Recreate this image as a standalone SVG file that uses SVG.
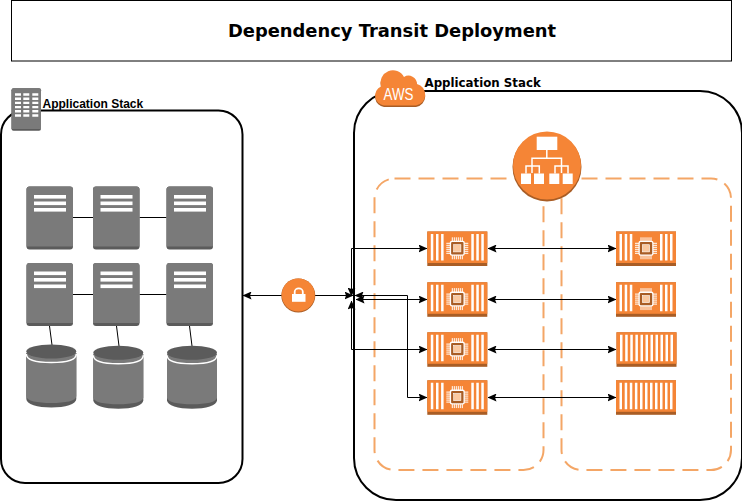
<svg xmlns="http://www.w3.org/2000/svg" width="742" height="502" viewBox="0 0 742 502">
<style>
.t{font-family:"DejaVu Sans",Verdana,sans-serif;font-weight:700;fill:#000}
.box{fill:#fff;stroke:#000;stroke-width:2}
.dash{fill:none;stroke:#f4a666;stroke-width:2;stroke-dasharray:16 8}
.c{fill:none;stroke:#000;stroke-width:1}
.g{fill:#7a7a7a}.gd{fill:#5b5b5b}.o{fill:#f58536}.od{fill:#a95d25}.w{fill:#fff}
</style>
<defs>
<marker id="a" viewBox="0 0 9 8" refX="8.500" refY="4" markerWidth="9" markerHeight="8" markerUnits="userSpaceOnUse" orient="auto-start-reverse"><path d="M0 0L9 4L0 8L1.500 4Z" fill="#000"/></marker>
<g id="server">
<rect class="gd" width="46.500" height="63" rx="3"/><path class="g" d="M3 0H43.500A3 3 0 0 1 46.500 3V60H0V3A3 3 0 0 1 3 0Z"/>
<rect class="w" x="7.500" y="8.500" width="32" height="3.600"/><rect class="w" x="7.500" y="15" width="32" height="3.600"/><rect class="w" x="7.500" y="21.500" width="32" height="3.600"/>
</g>
<g id="db">
<path class="gd" d="M0 9V55C0 60 11 63.500 25 63.500S50 60 50 55V9Z"/>
<path class="g" d="M0 9V52C0 57 11 59 25 59S50 57 50 52V9Z"/>
<path d="M0 10C0 16 11 18.500 25 18.500S50 16 50 10" fill="none" stroke="#fff" stroke-width="1.500"/>
<ellipse class="gd" cx="25" cy="7.500" rx="25" ry="7"/>
</g>
<g id="chipcore">
<g stroke="#fff" stroke-width="1" fill="none"><path d="M-11 -5H-7M-11 -3H-7M-11 -1H-7M-11 1H-7M-11 3H-7M-11 5H-7M7 -5H11M7 -3H11M7 -1H11M7 1H11M7 3H11M7 5H11M-5 -11V-7M-3 -11V-7M-1 -11V-7M1 -11V-7M3 -11V-7M5 -11V-7M-5 7V11M-3 7V11M-1 7V11M1 7V11M3 7V11M5 7V11"/></g>
<rect x="-7.500" y="-7.500" width="15" height="15" rx="2" fill="#fff"/><rect x="-6.200" y="-6.200" width="12.400" height="12.400" rx="1" class="od"/><rect x="-3.600" y="-3.600" width="7.200" height="7.200" fill="#fbc9a0" stroke="#fff" stroke-width=".6"/>
</g>
<g id="chip">
<rect class="od" width="60" height="34.500"/><rect class="o" width="60" height="31.500"/>
<path class="w" d="M3.500 2.500h2.500v26.500h-2.500zM8.700 2.500h2.500v26.500h-2.500zM13.800 2.500h2.500v26.500h-2.500zM44 2.500h2.500v26.500h-2.500zM49 2.500h2.500v26.500h-2.500zM54 2.500h2.500v26.500h-2.500z"/>
<use href="#chipcore" x="30" y="16.800"/>
</g>
<g id="cont">
<rect class="od" width="60" height="34.500"/><rect class="o" width="60" height="31.500"/>
<path class="w" d="M3.500 2.500h2.500v26.500h-2.500zM8.700 2.500h2.500v26.500h-2.500zM13.800 2.500h2.500v26.500h-2.500zM18.900 2.500h2.500v26.500h-2.500zM24 2.500h2.500v26.500h-2.500zM29 2.500h2.500v26.500h-2.500zM34 2.500h2.500v26.500h-2.500zM39 2.500h2.500v26.500h-2.500zM44 2.500h2.500v26.500h-2.500zM49 2.500h2.500v26.500h-2.500zM54 2.500h2.500v26.500h-2.500z"/>
</g>
</defs>
<rect width="742" height="502" fill="#fff"/>
<g id="title"><rect x="11.500" y=".5" width="720" height="60.500" fill="#fff" stroke="#000"/><text class="t" x="392" y="36.500" font-size="17.900" text-anchor="middle">Dependency Transit Deployment</text></g>
<g id="stack-left"><rect class="box" x="1" y="110.500" width="241.500" height="372.500" rx="24"/>
<g id="left-icon"><rect class="gd" x="11.500" y="88.300" width="29.500" height="42.500" rx="2"/><path class="g" d="M13.500 88.300H39A2 2 0 0 1 41 90.300V129H11.500V90.300A2 2 0 0 1 13.500 88.300Z"/><path class="w" d="M15 93.300h6v2.400h-6zM23.300 93.300h6v2.400h-6zM32.300 93.300h6v2.400h-6zM15 97.500h6v2.400h-6zM23.300 97.500h6v2.400h-6zM32.300 97.500h6v2.400h-6zM15 101.700h6v2.400h-6zM23.300 101.700h6v2.400h-6zM32.300 101.700h6v2.400h-6zM15 105.900h6v2.400h-6zM23.300 105.900h6v2.400h-6zM32.300 105.900h6v2.400h-6zM15 110.100h6v2.400h-6zM23.300 110.100h6v2.400h-6zM32.300 110.100h6v2.400h-6zM15 114.300h6v2.400h-6zM23.300 114.300h6v2.400h-6zM32.300 114.300h6v2.400h-6z"/></g>
<text x="42.500" y="108" font-family="'Liberation Sans',Arial,sans-serif" font-weight="700" font-size="12">Application Stack</text></g>
<g id="stack-right"><rect class="box" x="354" y="91" width="388" height="409" rx="42"/>
<text class="t" x="424.500" y="87" font-size="11.800">Application Stack</text></g>
<g id="az"><rect class="dash" x="374.500" y="178.500" width="169" height="291.500" rx="20"/><rect class="dash" x="561.500" y="178.500" width="169.500" height="291.500" rx="20"/></g>
<g id="connectors">
<path class="c" d="M73 217.500H93M139.500 217.500H166.500M73 294.500H93M139.500 294.500H166.500M49.500 326L52 345M116.500 326L119 346M189.500 326L192 346"/>
<path class="c" marker-start="url(#a)" marker-end="url(#a)" d="M243 295.500H353"/>
<path class="c" marker-start="url(#a)" marker-end="url(#a)" d="M351.500 296V248.500H427"/>
<path class="c" marker-start="url(#a)" marker-end="url(#a)" d="M356 299.500H427"/>
<path class="c" marker-start="url(#a)" marker-end="url(#a)" d="M351.500 301V349.500H427"/>
<path class="c" marker-start="url(#a)" marker-end="url(#a)" d="M355 295.500H407.500V397.500H427"/>
<path class="c" marker-start="url(#a)" marker-end="url(#a)" d="M488 248.500H616"/>
<path class="c" marker-start="url(#a)" marker-end="url(#a)" d="M488 299.500H616"/>
<path class="c" marker-start="url(#a)" marker-end="url(#a)" d="M488 349.500H616"/>
<path class="c" marker-start="url(#a)" marker-end="url(#a)" d="M488 397.500H616"/>
</g>
<use id="server-1" href="#server" x="26.500" y="186.500"/><use id="server-2" href="#server" x="93" y="186.500"/><use id="server-3" href="#server" x="166.500" y="186.500"/>
<use id="server-4" href="#server" x="26.500" y="263"/><use id="server-5" href="#server" x="93" y="263"/><use id="server-6" href="#server" x="166.500" y="263"/>
<use id="db-1" href="#db" x="26.300" y="344"/><use id="db-2" href="#db" x="93.300" y="345.200"/><use id="db-3" href="#db" x="167" y="345.200"/>
<g id="lock"><circle cx="298.300" cy="295.500" r="17" class="od"/><circle cx="298.300" cy="295" r="16.600" class="o"/><rect class="w" x="292" y="294" width="13.500" height="7.800"/><path d="M294.700 294.500V291.800A4 3.300 0 0 1 302.800 291.800V294.500" fill="none" stroke="#fff" stroke-width="1.800"/></g>
<g id="aws"><path id="cloud-shadow" class="od" d="M384 107A10 10 0 0 1 381 88A12.500 12.500 0 0 1 404 78.500A8.500 8.500 0 0 1 417 85.500A11 11 0 0 1 416 107Z"/><path class="o" d="M384 105.500A10 10 0 0 1 381 86.500A12.500 12.500 0 0 1 404 77A8.500 8.500 0 0 1 417 84A11 11 0 0 1 416 105.500Z"/><text x="398.500" y="100" text-anchor="middle" font-family="'Liberation Sans',Arial,sans-serif" font-size="16.500" fill="#fff" textLength="30" lengthAdjust="spacingAndGlyphs">AWS</text></g>
<g id="elb"><circle cx="547" cy="167" r="34.500" class="od"/><circle cx="547" cy="165.500" r="34" class="o"/>
<path fill="none" stroke="#fff" stroke-width="1.500" d="M546.800 150V158.300M532 173V158.300H561.500V173M526 173.500V166H539.300V173.500M555 173.500V166H568V173.500"/>
<rect class="w" x="536.700" y="136.700" width="20.600" height="13.300"/><rect class="w" x="521" y="173.500" width="10" height="10.500"/><rect class="w" x="534" y="173.500" width="10" height="10.500"/><rect class="w" x="549.300" y="173.500" width="10" height="10.500"/><rect class="w" x="562.700" y="173.500" width="10" height="10.500"/></g>
<use id="chip-1" href="#chip" x="427.300" y="231.500"/><use id="chip-2" href="#chip" x="427.300" y="282.300"/><use id="chip-3" href="#chip" x="427.300" y="332.300"/><use id="chip-4" href="#chip" x="427.300" y="380.300"/>
<use id="chip-5" href="#chip" x="616" y="231.500"/><use id="chip-6" href="#chip" x="616" y="282.300"/><use id="cont-7" href="#cont" x="616.500" y="332.300"/><use id="cont-8" href="#cont" x="616" y="380.300"/>
</svg>
